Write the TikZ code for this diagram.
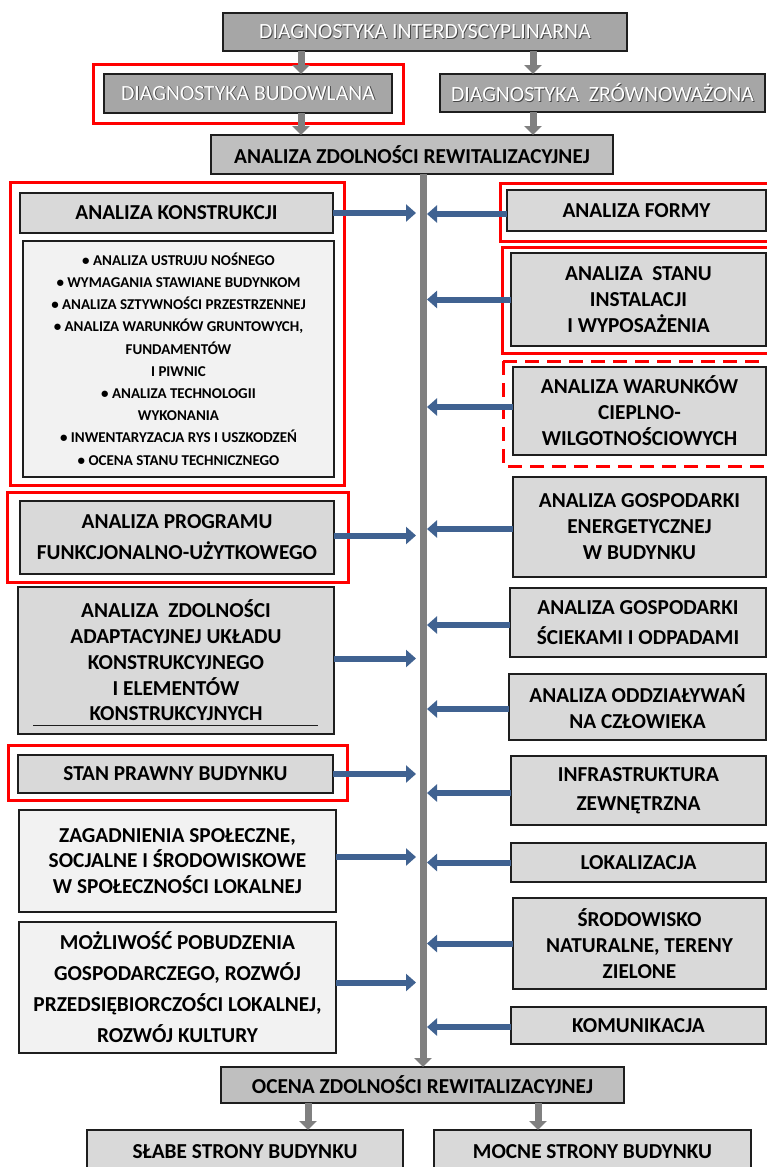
\documentclass[tikz,border=0pt]{standalone}
\usepackage{fontspec}
\setmainfont{Carlito}
\usetikzlibrary{arrows.meta}
\definecolor{dgray}{RGB}{166,166,166}
\definecolor{mgray}{RGB}{191,191,191}
\definecolor{lgray}{RGB}{217,217,217}
\definecolor{pgray}{RGB}{242,242,242}
\definecolor{agray}{RGB}{128,128,128}
\definecolor{barrow}{RGB}{64,98,145}
\definecolor{bord}{RGB}{30,30,30}
\definecolor{shad}{RGB}{70,70,70}
\newcommand\shtxt[1]{\makebox[0pt][l]{\hspace{0.9pt}\raisebox{-0.9pt}{\textcolor{shad}{#1}}}#1}
\tikzset{
  box/.style={draw=bord, line width=1.6pt, inner sep=0pt, outer sep=0pt, align=center, text=black},
  dbox/.style={box, fill=dgray, text=white, font=\fontsize{21.7}{24}\selectfont},
  mbox/.style={box, fill=mgray, font=\bfseries\fontsize{21.3}{24}\selectfont},
  lbox/.style={box, fill=lgray, font=\bfseries\fontsize{21.3}{26}\selectfont},
  pbox/.style={box, fill=pgray, font=\bfseries\fontsize{21.3}{26}\selectfont},
  redframe/.style={draw=red, line width=3pt},
  garrow/.style={draw=agray, line width=7pt, -{Triangle[width=17pt,length=9pt]}},
  barr/.style={draw=barrow, line width=6pt, -{Triangle[width=17pt,length=10pt]}},
}
\begin{document}
\begin{tikzpicture}[x=1pt,y=-1pt]
\useasboundingbox (0,0) rectangle (767,1167);
\clip (0,0) rectangle (767,1167);
% red frames
\draw[redframe] (93,64) rectangle (403,123);
\draw[redframe] (10,182) rectangle (344,485);
\draw[redframe] (7,492) rectangle (348,582);
\draw[redframe] (8,745) rectangle (347,800);
\draw[redframe] (500,183) rectangle (790,241);
\draw[redframe] (502,247) rectangle (790,353);
\draw[redframe, dash pattern=on 14pt off 8pt] (503,361) rectangle (790,466);
% top
\node[dbox, minimum width=404pt, minimum height=38pt] (n1) at (425,32) {\shtxt{DIAGNOSTYKA INTERDYSCYPLINARNA}};
\node[dbox, minimum width=288pt, minimum height=39pt] (db) at (248,93.5) {\shtxt{DIAGNOSTYKA BUDOWLANA}};
\node[dbox, minimum width=325pt, minimum height=38pt] (dz) at (602.5,93) {\shtxt{DIAGNOSTYKA\ \ ZRÓWNOWAŻONA}};
\node[mbox, minimum width=402pt, minimum height=39pt] (azr) at (412,154.5) {ANALIZA ZDOLNOŚCI REWITALIZACYJNEJ};
% left column
\node[lbox, minimum width=313pt, minimum height=40pt] (ak) at (176.5,213) {ANALIZA KONSTRUKCJI};
\node[pbox, minimum width=311pt, minimum height=236pt, font=\bfseries\fontsize{15}{22.2}\selectfont] (akl) at (178.5,359) {%
• ANALIZA USTRUJU NOŚNEGO\\
• WYMAGANIA STAWIANE BUDYNKOM\\
• ANALIZA SZTYWNOŚCI PRZESTRZENNEJ\\
• ANALIZA WARUNKÓW GRUNTOWYCH,\\
FUNDAMENTÓW\\
I PIWNIC\\
• ANALIZA TECHNOLOGII\\
WYKONANIA\\
• INWENTARYZACJA RYS I USZKODZEŃ\\
• OCENA STANU TECHNICZNEGO};
\node[lbox, minimum width=314pt, minimum height=73pt, font=\bfseries\fontsize{21.3}{31}\selectfont] (ap) at (177,537.5) {ANALIZA PROGRAMU\\FUNKCJONALNO-UŻYTKOWEGO};
\node[lbox, minimum width=316pt, minimum height=147pt, font=\bfseries\fontsize{21.3}{25.8}\selectfont] (aza) at (176,660.5) {ANALIZA\ \ ZDOLNOŚCI\\ADAPTACYJNEJ UKŁADU\\KONSTRUKCYJNEGO\\I ELEMENTÓW\\KONSTRUKCYJNYCH};
\draw[line width=1pt, bord] ([xshift=15pt,yshift=9pt]aza.south west) coordinate (u1) -- ([xshift=-16pt,yshift=9pt]aza.south east) coordinate (u2);
\node[lbox, minimum width=315pt, minimum height=38pt] (sp) at (175.5,774) {STAN PRAWNY BUDYNKU};
\node[pbox, minimum width=317pt, minimum height=102pt, font=\bfseries\fontsize{21.3}{25.5}\selectfont] (zs) at (177.5,861) {ZAGADNIENIA SPOŁECZNE,\\SOCJALNE I ŚRODOWISKOWE\\W SPOŁECZNOŚCI LOKALNEJ};
\node[pbox, minimum width=317pt, minimum height=131pt, font=\bfseries\fontsize{21.3}{31}\selectfont] (mp) at (177.5,987.5) {MOŻLIWOŚĆ POBUDZENIA\\GOSPODARCZEGO, ROZWÓJ\\PRZEDSIĘBIORCZOŚCI LOKALNEJ,\\ROZWÓJ KULTURY};
% right column
\node[lbox, minimum width=259pt, minimum height=41pt] (af) at (636.5,210.5) {ANALIZA FORMY};
\node[lbox, minimum width=255pt, minimum height=93pt] (as) at (638.5,299.5) {ANALIZA\ \ STANU\\INSTALACJI\\I WYPOSAŻENIA};
\node[lbox, minimum width=253pt, minimum height=88pt] (aw) at (639.5,411) {ANALIZA WARUNKÓW\\CIEPLNO-\\WILGOTNOŚCIOWYCH};
\node[lbox, minimum width=253pt, minimum height=100pt] (age) at (639.5,527) {ANALIZA GOSPODARKI\\ENERGETYCZNEJ\\W BUDYNKU};
\node[lbox, minimum width=256pt, minimum height=69pt, font=\bfseries\fontsize{21.3}{30.5}\selectfont] (ags) at (638,622.5) {ANALIZA GOSPODARKI\\ŚCIEKAMI I ODPADAMI};
\node[lbox, minimum width=257pt, minimum height=66pt] (ao) at (637.5,707) {ANALIZA ODDZIAŁYWAŃ\\NA CZŁOWIEKA};
\node[lbox, minimum width=255pt, minimum height=69pt, font=\bfseries\fontsize{21.3}{29}\selectfont] (inf) at (638.5,790.5) {INFRASTRUKTURA\\ZEWNĘTRZNA};
\node[lbox, minimum width=255pt, minimum height=39pt] (lok) at (638.5,862.5) {LOKALIZACJA};
\node[lbox, minimum width=253pt, minimum height=91pt] (sro) at (639.5,943.5) {ŚRODOWISKO\\NATURALNE, TERENY\\ZIELONE};
\node[lbox, minimum width=255pt, minimum height=37pt] (kom) at (638.5,1025.5) {KOMUNIKACJA};
% bottom
\node[mbox, minimum width=403pt, minimum height=36pt] (oc) at (422.5,1085) {OCENA ZDOLNOŚCI REWITALIZACYJNEJ};
\node[lbox, minimum width=316pt, minimum height=50pt, anchor=north] (sl) at (245,1130) {};
\node[font=\bfseries\fontsize{21.3}{24}\selectfont] (slt) at (245,1152) {SŁABE STRONY BUDYNKU};
\node[lbox, minimum width=317pt, minimum height=50pt, anchor=north] (mc) at (592.5,1130) {};
\node[font=\bfseries\fontsize{21.3}{24}\selectfont] (mct) at (592.5,1152) {MOCNE STRONY BUDYNKU};
% coordinates for connector x positions
\coordinate (xa) at (301,0);
\coordinate (xb) at (533,0);
\coordinate (xs) at (423,0);
\coordinate (xl) at (416,0);
\coordinate (xr) at (427,0);
\coordinate (xc) at (308,0);
\coordinate (xd) at (538,0);
% gray arrows
\draw[garrow] (n1.south -| xa) -- (db.north -| xa);
\draw[garrow] (n1.south -| xb) -- (dz.north -| xb);
\draw[garrow] (db.south -| xa) -- (azr.north -| xa);
\draw[garrow] (dz.south -| xb) -- (azr.north -| xb);
\draw[garrow] (azr.south -| xs) -- (oc.north -| xs);
\draw[garrow] (oc.south -| xc) -- (sl.north -| xc);
\draw[garrow] (oc.south -| xd) -- (mc.north -| xd);
% blue arrows left -> spine
\draw[barr] (ak.east) -- (ak.east -| xl);
\draw[barr] ([yshift=2pt]ap.east) -- ([yshift=2pt]ap.east -| xl);
\draw[barr] ([yshift=2pt]aza.east) -- ([yshift=2pt]aza.east -| xl);
\draw[barr] (sp.east) -- (sp.east -| xl);
\draw[barr] ([yshift=4pt]zs.east) -- ([yshift=4pt]zs.east -| xl);
\draw[barr] ([yshift=5pt]mp.east) -- ([yshift=5pt]mp.east -| xl);
% blue arrows right -> spine
\draw[barr] ([yshift=-3.5pt]af.west) -- ([yshift=-3.5pt]af.west -| xr);
\draw[barr] (as.west) -- (as.west -| xr);
\draw[barr] ([yshift=4pt]aw.west) -- ([yshift=4pt]aw.west -| xr);
\draw[barr] ([yshift=-2pt]age.west) -- ([yshift=-2pt]age.west -| xr);
\draw[barr] ([yshift=-2.5pt]ags.west) -- ([yshift=-2.5pt]ags.west -| xr);
\draw[barr] ([yshift=-2pt]ao.west) -- ([yshift=-2pt]ao.west -| xr);
\draw[barr] ([yshift=-2.5pt]inf.west) -- ([yshift=-2.5pt]inf.west -| xr);
\draw[barr] (lok.west) -- (lok.west -| xr);
\draw[barr] (sro.west) -- (sro.west -| xr);
\draw[barr] ([yshift=-1.5pt]kom.west) -- ([yshift=-1.5pt]kom.west -| xr);
\end{tikzpicture}
\end{document}
